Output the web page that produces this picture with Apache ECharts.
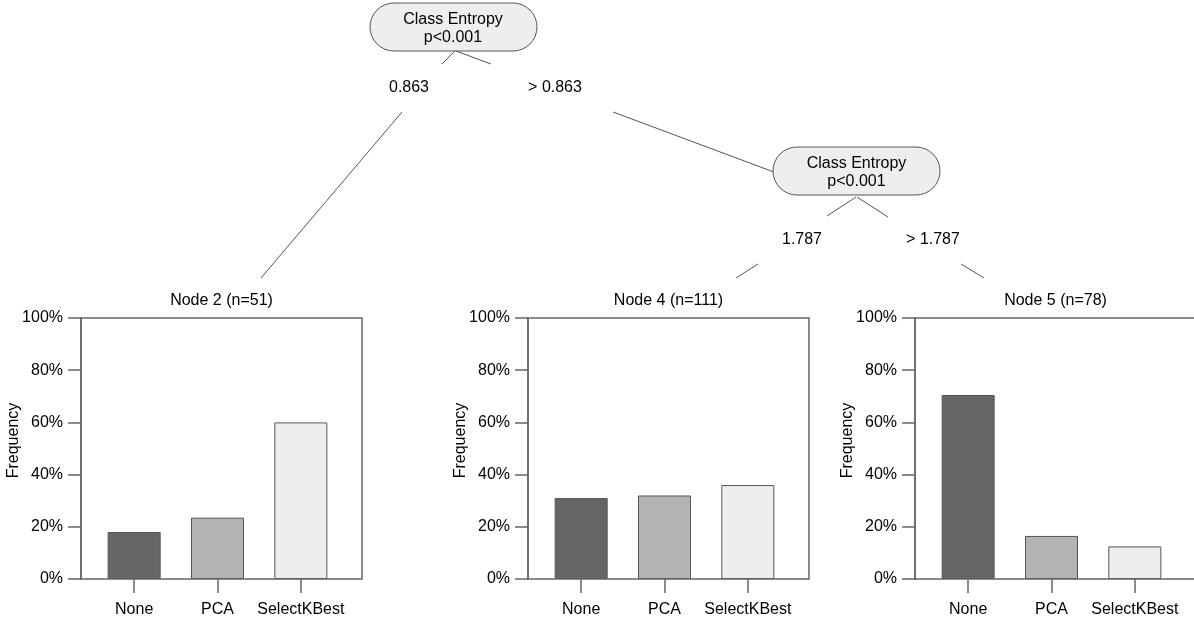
<!DOCTYPE html>
<html>
<head>
<meta charset="utf-8">
<script src="https://cdn.jsdelivr.net/npm/echarts@6/dist/echarts.min.js"></script>
<style>
  html, body { margin: 0; padding: 0; background: #fff; }
  #main { width: 1194px; height: 624px; }
</style>
</head>
<body>
<div id="main"></div>
<script>
// data
var classes = ['None', 'PCA', 'SelectKBest'];
var nodeTitles = ['Node 2 (n=51)', 'Node 4 (n=111)', 'Node 5 (n=78)'];
var node2 = [18, 23.5, 60];
var node4 = [31, 32, 36];
var node5 = [70.5, 16.5, 12.5];
var yTicks = [0, 20, 40, 60, 80, 100];
var splitVar = 'Class Entropy';
var splitP = 'p<0.001';
var splitLabels = ['0.863', '> 0.863', '1.787', '> 1.787'];

var barColors = ['#666666', '#b3b3b3', '#eeeeee'];
var font = 'Liberation Sans, Arial, sans-serif';
var lineCol = '#666';

var myChart = echarts.init(document.getElementById('main'));

// panel boxes (left edge of each box); the last one runs off the right edge
var panelLeft = [81, 528, 915];
var boxWidths = [281, 281, 300];
var boxTop = 318, boxH = 261;
var panels = [node2, node4, node5];

var grids = [], xAxes = [], yAxes = [], series = [], graphics = [];

panels.forEach(function (vals, i) {
    var L = panelLeft[i];
    grids.push({ left: L + 11.5, width: 250, top: boxTop, height: boxH });
    xAxes.push({
        type: 'category', gridIndex: i, data: classes,
        axisLine: { show: false },
        axisTick: { show: true, alignWithLabel: true, length: 14, lineStyle: { color: lineCol, width: 1.5 } },
        axisLabel: { color: '#000', fontSize: 16, fontFamily: font, margin: 23, interval: 0 }
    });
    yAxes.push({
        type: 'value', gridIndex: i, min: yTicks[0], max: yTicks[yTicks.length - 1], interval: 20, offset: 11.5,
        name: 'Frequency', nameLocation: 'middle', nameGap: 59, nameMoveOverlap: false,
        nameTextStyle: { color: '#000', fontSize: 16, fontFamily: font, padding: [0, 0, 0, 16] },
        axisLine: { show: true, lineStyle: { color: lineCol, width: 1.5 } },
        axisTick: { show: true, length: 13, lineStyle: { color: lineCol, width: 1.5 } },
        axisLabel: { color: '#000', fontSize: 16, fontFamily: font, margin: 18, formatter: '{value}%' },
        splitLine: { show: false }
    });
    series.push({
        type: 'bar', xAxisIndex: i, yAxisIndex: i, barWidth: 53,
        data: vals.map(function (v, k) {
            return { value: v, itemStyle: { color: barColors[k] } };
        }),
        itemStyle: { borderColor: '#555', borderWidth: 1 },
        silent: true
    });
    // frame around the panel
    graphics.push({
        type: 'rect', z: 10,
        shape: { x: L, y: boxTop, width: boxWidths[i], height: boxH },
        style: { fill: 'none', stroke: lineCol, lineWidth: 1.5 }
    });
    graphics.push({
        type: 'text', x: L + 281 / 2, y: 301,
        style: { text: nodeTitles[i], fill: '#000', font: '16px ' + font, textAlign: 'center', textVerticalAlign: 'middle' }
    });
});

// tree edges (drawn with a gap where the split label sits)
var edgeSegs = [
    [[455, 51], [442, 64]], [[402, 112], [261, 278]],
    [[456, 51], [491, 64]], [[613, 112], [790, 178]],
    [[856, 197], [827, 216]], [[758, 264], [736, 278]],
    [[857, 197], [888, 217]], [[961, 264], [984, 278]]
];
edgeSegs.forEach(function (s) {
    graphics.push({
        type: 'line',
        shape: { x1: s[0][0], y1: s[0][1], x2: s[1][0], y2: s[1][1] },
        style: { stroke: '#555', lineWidth: 1 }
    });
});

// inner nodes
[[370, 3, 453], [773, 147, 856.5]].forEach(function (n) {
    graphics.push({
        type: 'rect', z: 5,
        shape: { x: n[0], y: n[1], width: 167, height: 48, r: 24 },
        style: { fill: '#eeeeee', stroke: '#555', lineWidth: 1 }
    });
    graphics.push({
        type: 'text', z: 6, x: n[2], y: n[1] + 17,
        style: { text: splitVar, fill: '#000', font: '16px ' + font, textAlign: 'center', textVerticalAlign: 'middle' }
    });
    graphics.push({
        type: 'text', z: 6, x: n[2], y: n[1] + 35,
        style: { text: splitP, fill: '#000', font: '16px ' + font, textAlign: 'center', textVerticalAlign: 'middle' }
    });
});

// split labels
[[409, 88], [555, 88], [802, 240], [933, 240]].forEach(function (p, k) {
    graphics.push({
        type: 'text', x: p[0], y: p[1],
        style: { text: splitLabels[k], fill: '#000', font: '16px ' + font, textAlign: 'center', textVerticalAlign: 'middle' }
    });
});

var option = {
    animation: false,
    backgroundColor: '#fff',
    grid: grids,
    xAxis: xAxes,
    yAxis: yAxes,
    series: series,
    graphic: graphics
};

myChart.setOption(option);
</script>
</body>
</html>
